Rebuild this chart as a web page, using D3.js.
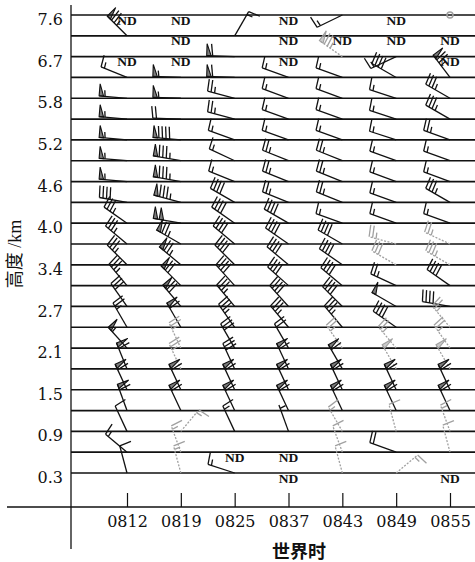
<!DOCTYPE html>
<html>
<head>
<meta charset="utf-8">
<script src="https://cdn.jsdelivr.net/npm/d3@7"></script>
<style>
body { margin: 0; background: #fff; }
</style>
</head>
<body>
<div id="chart"></div>
<script>
// times along the bottom, heights (km) from top row to bottom row
const times = ["0812", "0819", "0825", "0837", "0843", "0849", "0855"];
const levels = ["7.6", "7.1", "6.7", "6.2", "5.8", "5.5", "5.2", "4.9", "4.6", "4.3", "4.0", "3.7",
                "3.4", "3.1", "2.7", "2.4", "2.1", "1.8", "1.5", "1.2", "0.9", "0.6", "0.3"];
const levelLabels = ["7.6", "6.7", "5.8", "5.2", "4.6", "4.0", "3.4", "2.7", "2.1", "1.5", "0.9", "0.3"];

// wind direction (deg, blowing from), one row per level, one column per time
const windDir = [
  [0, 0, 0, 0, 244, 0, 0],
  [315, 0, 30, 0, 0, 0, 0],
  [0, 0, 272, 0, 305, 245, 0],
  [292, 272, 272, 290, 290, 300, 323],
  [275, 272, 285, 290, 290, 288, 300],
  [275, 272, 285, 290, 290, 288, 300],
  [275, 275, 290, 290, 290, 288, 290],
  [275, 280, 295, 292, 292, 290, 290],
  [275, 280, 292, 292, 292, 290, 290],
  [280, 285, 300, 292, 292, 290, 300],
  [305, 280, 305, 300, 290, 290, 290],
  [310, 300, 310, 305, 300, 285, 295],
  [315, 310, 315, 310, 305, 300, 300],
  [320, 315, 318, 312, 310, 295, 305],
  [325, 320, 320, 318, 315, 300, 280],
  [330, 330, 325, 320, 320, 305, 320],
  [318, 335, 330, 330, 325, 320, 325],
  [338, 335, 335, 335, 330, 330, 330],
  [335, 335, 335, 335, 335, 335, 335],
  [340, 335, 335, 335, 335, 335, 335],
  [335, 40, 335, 340, 330, 345, 340],
  [310, 340, 0, 0, 340, 290, 345],
  [345, 345, 288, 0, 345, 50, 0]
];

// wind speed (m/s); -1 = ND (no data), -2 = calm, 0 = nothing drawn
const windSpeed = [
  [-1, -1, 0, -1, 6, -1, -2],
  [30, -1, 6, -1, -1, -1, -1],
  [-1, -1, 24, -1, 30, 6, -1],
  [6, 22, 24, 6, 6, 16, 30],
  [22, 22, 10, 6, 6, 6, 14],
  [22, 8, 10, 6, 6, 6, 14],
  [22, 36, 6, 6, 6, 6, 10],
  [22, 34, 6, 10, 10, 6, 6],
  [22, 34, 6, 10, 10, 6, 6],
  [16, 34, 16, 10, 10, 6, 14],
  [14, 40, 16, 16, 6, 6, 6],
  [14, 30, 16, 16, 16, 10, 10],
  [14, 30, 16, 16, 16, 12, 14],
  [14, 28, 16, 16, 16, 10, 16],
  [12, 28, 14, 16, 16, 20, 16],
  [10, 24, 14, 14, 14, 16, 10],
  [22, 10, 12, 8, 10, 10, 10],
  [24, 10, 12, 24, 24, 20, 20],
  [24, 24, 24, 24, 24, 24, 24],
  [24, 24, 24, 24, 24, 24, 24],
  [4, 6, 6, 2, 6, 4, 6],
  [6, 6, -1, -1, 4, 8, 4],
  [4, 6, 6, -1, 4, 6, -1]
];

// 1 = grey (low-confidence) barb
const greyMask = [
  "0000001", "0000000", "0000100", "0000000", "0000000", "0000000", "0000000", "0000000",
  "0000000", "0000000", "0000000", "0000011", "0000011", "0000000", "0000000", "0000001",
  "0100111", "0100011", "0000000", "0000000", "0100111", "0100101", "0100110"
];

const WIDTH = 475, HEIGHT = 562;
const AXIS_X = 71, AXIS_Y = 507;
const STAFF = 28, FEATHER = 12, SPACING = 3.6, FLAG_W = 4.5;
const BLACK = "#111", GREY = "#a0a0a0";
const SERIF = "'DejaVu Serif', 'Liberation Serif', serif";

const svg = d3.select("#chart")
    .append("svg")
    .attr("width", WIDTH)
    .attr("height", HEIGHT)
    .style("font-family", "'Liberation Serif', serif");

const xScale = d3.scalePoint()
    .domain(times)
    .range([127, 450]);

const yScale = d3.scalePoint()
    .domain(levels)
    .range([15, 473]);

// row lines
svg.append("g")
    .selectAll("line")
    .data(levels)
    .join("line")
    .attr("x1", AXIS_X)
    .attr("x2", WIDTH)
    .attr("y1", d => yScale(d))
    .attr("y2", d => yScale(d))
    .attr("stroke", "#111")
    .attr("stroke-width", 1.7);

// frame lines
svg.append("line")
    .attr("x1", AXIS_X).attr("x2", AXIS_X)
    .attr("y1", 5).attr("y2", 549)
    .attr("stroke", "#111").attr("stroke-width", 1.3);
svg.append("line")
    .attr("x1", 7).attr("x2", WIDTH)
    .attr("y1", AXIS_Y).attr("y2", AXIS_Y)
    .attr("stroke", "#111").attr("stroke-width", 1.3);

// x axis
const xAxis = d3.axisBottom(xScale)
    .tickSizeInner(-14)
    .tickSizeOuter(0)
    .tickPadding(9);

const gx = svg.append("g")
    .attr("transform", `translate(0, ${AXIS_Y})`)
    .call(xAxis);
gx.select(".domain").remove();
gx.selectAll(".tick line").attr("stroke", "#111").attr("stroke-width", 1.2);
gx.selectAll(".tick text")
    .attr("font-size", 16)
    .attr("font-family", SERIF)
    .attr("fill", "#111");

// y axis
const yAxis = d3.axisLeft(yScale)
    .tickValues(levelLabels)
    .tickSize(0)
    .tickPadding(8);

const gy = svg.append("g")
    .attr("transform", `translate(${AXIS_X}, 0)`)
    .call(yAxis);
gy.select(".domain").remove();
gy.selectAll(".tick text")
    .attr("font-size", 16)
    .attr("font-family", SERIF)
    .attr("fill", "#111")
    .attr("dy", "0.6em");

// axis titles
svg.append("text")
    .attr("transform", "translate(21, 254) rotate(-90)")
    .attr("text-anchor", "middle")
    .attr("font-size", 18)
    .attr("fill", "#111")
    .attr("font-family", "'Liberation Serif', 'Noto Sans CJK SC', serif")
    .text("高度 /km");

svg.append("text")
    .attr("x", 299)
    .attr("y", 558)
    .attr("text-anchor", "middle")
    .attr("font-size", 18)
    .attr("font-weight", "bold")
    .attr("fill", "#111")
    .attr("font-family", "'Noto Sans CJK SC', sans-serif")
    .text("世界时");

// Function to draw one wind barb: staff from station toward the wind source,
// flags (20), full feathers (4) and half feathers (2) at the far end
function drawBarb(g, x0, y0, dir, spd, color) {
    const rad = dir * Math.PI / 180;
    const ux = Math.sin(rad), uy = -Math.cos(rad);
    const px = -uy, py = ux;
    const at = s => [x0 + ux * s, y0 + uy * s];

    const tail = at(STAFF);
    g.append("line")
        .attr("x1", x0).attr("y1", y0)
        .attr("x2", tail[0]).attr("y2", tail[1])
        .attr("stroke", color)
        .attr("stroke-width", 1.3)
        .attr("stroke-dasharray", color === GREY ? "2,1.5" : null);

    let n = Math.round(spd / 2) * 2;
    const flags = Math.floor(n / 20); n -= flags * 20;
    const full = Math.floor(n / 4); n -= full * 4;
    const half = n >= 2 ? 1 : 0;

    let pos = STAFF;
    for (let i = 0; i < flags; i++) {
        const a = at(pos), b = at(pos - FLAG_W);
        const tip = [a[0] + px * FEATHER, a[1] + py * FEATHER];
        g.append("path")
            .attr("d", `M${a}L${tip}L${b}Z`)
            .attr("fill", color)
            .attr("fill-opacity", 0.55)
            .attr("stroke", color)
            .attr("stroke-width", 1.1);
        pos -= FLAG_W + 1.5;
    }
    for (let i = 0; i < full; i++) {
        const a = at(pos);
        g.append("line")
            .attr("x1", a[0]).attr("y1", a[1])
            .attr("x2", a[0] + px * FEATHER + ux * 1.5)
            .attr("y2", a[1] + py * FEATHER + uy * 1.5)
            .attr("stroke", color)
            .attr("stroke-width", 1.3);
        pos -= SPACING;
    }
    if (half) {
        if (flags + full === 0) pos -= SPACING;
        const a = at(pos);
        g.append("line")
            .attr("x1", a[0]).attr("y1", a[1])
            .attr("x2", a[0] + px * FEATHER / 2 + ux * 0.8)
            .attr("y2", a[1] + py * FEATHER / 2 + uy * 0.8)
            .attr("stroke", color)
            .attr("stroke-width", 1.3);
    }
}

const barbs = svg.append("g");
const labels = svg.append("g");

levels.forEach((lev, i) => {
    times.forEach((t, j) => {
        const spd = windSpeed[i][j];
        const x = xScale(t), y = yScale(lev);
        const color = greyMask[i][j] === "1" ? GREY : BLACK;
        if (spd === -1) {
            labels.append("text")
                .attr("x", x)
                .attr("y", y + 9.5)
                .attr("text-anchor", "middle")
                .attr("font-size", 13.5)
                .attr("font-weight", "bold")
                .attr("fill", "#111")
                .text("ND");
        } else if (spd === -2) {
            barbs.append("circle")
                .attr("cx", x).attr("cy", y)
                .attr("r", 3)
                .attr("fill", "none")
                .attr("stroke", color)
                .attr("stroke-width", 1.5);
        } else if (spd > 0) {
            drawBarb(barbs, x, y, windDir[i][j], spd, color);
        }
    });
});
</script>
</body>
</html>
